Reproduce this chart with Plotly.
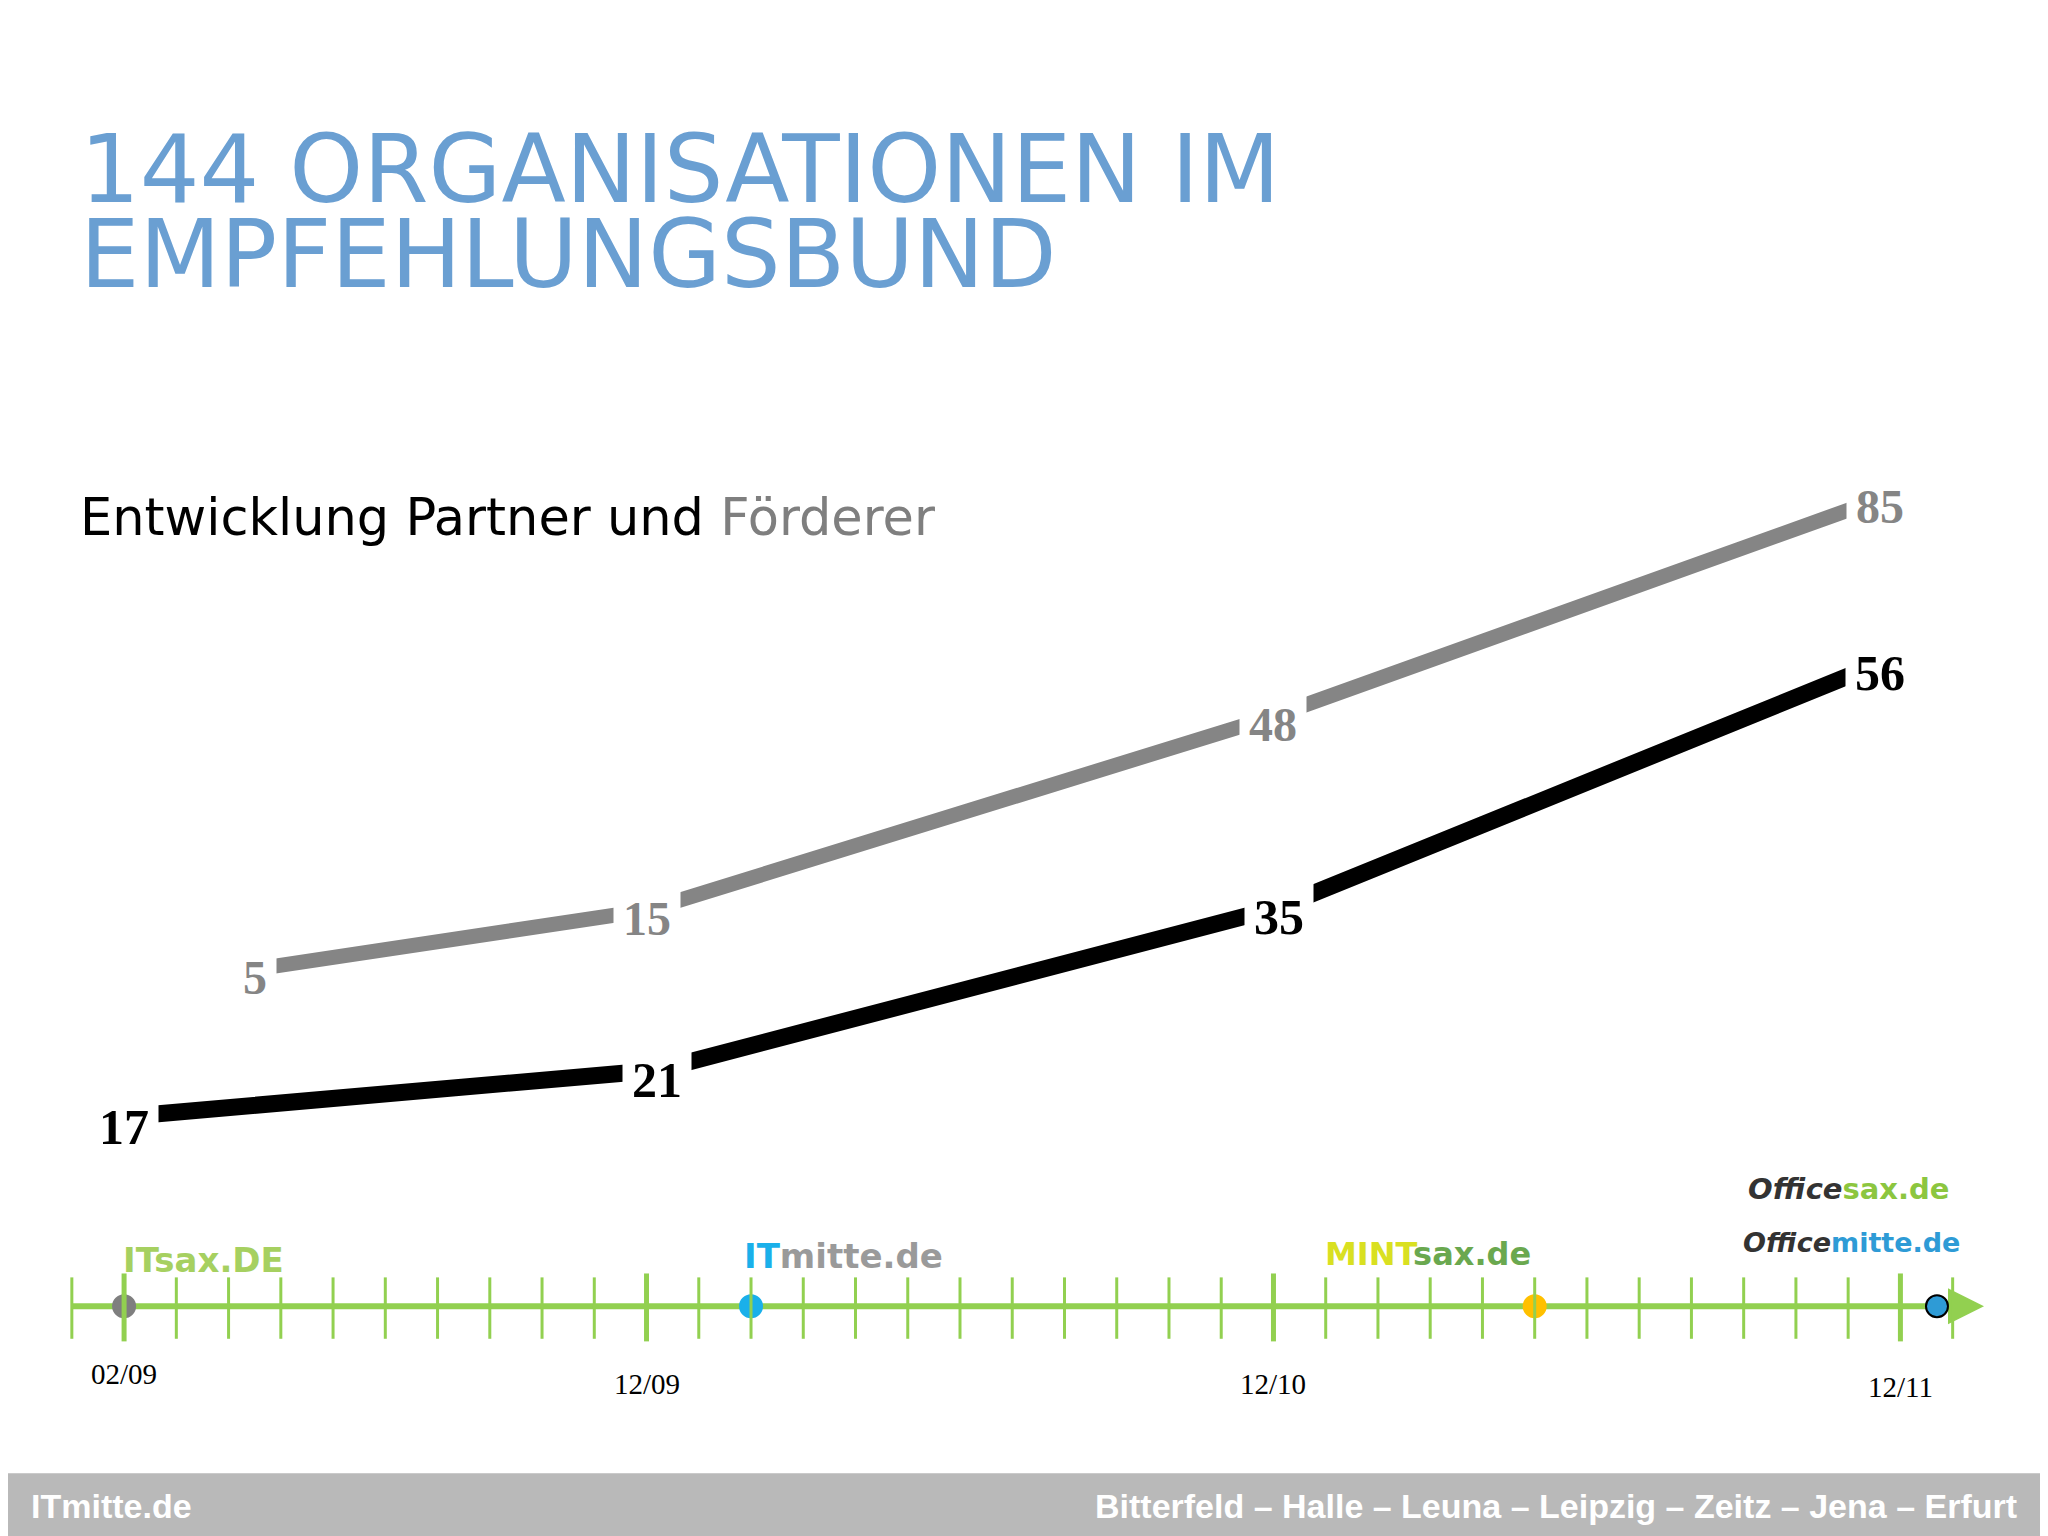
import plotly.graph_objects as go

FW, FH = 2032, 1528   # figure size (page has 8px body margin)
S = 2048 / 1568.0     # display->actual scale
OFF = 8 / S           # page offset in display px

# data
months = ["02/09", "12/09", "12/10", "12/11"]
month_idx = [0, 10, 22, 34]
partner_x = [0, 10.2, 22.1, 33.6]
partner = [17, 21, 35, 56]
foerderer_x = [2.5, 10, 22, 33.6]
foerderer = [5, 15, 48, 85]
marker_months = [0, 12, 27, 34.7]
marker_colors = ["#7f7f7f", "#1ab0ea", "#ffc000", "#2e9bd6"]
timeline_level = 0.7

DW, DH = FW / S, FH / S
def px(x): return (x - OFF) / DW
def py(y): return 1 - (y - OFF) / DH

def xr():
    a, b = 95.0, 40.0
    return [(OFF - a) / b, (OFF + DW - a) / b]
def yr(y0, slope):
    return [(y0 - (OFF + DH)) / slope, (y0 - OFF) / slope]

fig = go.Figure()
fig.add_trace(go.Scatter(x=[-1, 35.3], y=[timeline_level]*2, mode="lines",
                         line=dict(color="#92d050", width=6), hoverinfo="skip"))
fig.add_trace(go.Scatter(x=[35.6], y=[timeline_level], mode="markers",
                         marker=dict(symbol="arrow-right", size=36, color="#92d050"), hoverinfo="skip"))
fig.add_trace(go.Scatter(x=marker_months, y=[timeline_level]*4, mode="markers",
                         marker=dict(size=22, color=marker_colors,
                                     line=dict(color=["#7f7f7f", "#1ab0ea", "#ffc000", "#000000"], width=2)),
                         hoverinfo="skip"))
fig.add_trace(go.Scatter(x=partner_x, y=partner, mode="lines",
                         line=dict(color="#000000", width=17), hoverinfo="skip"))
fig.add_trace(go.Scatter(x=foerderer_x, y=foerderer, mode="lines", yaxis="y2",
                         line=dict(color="#858585", width=15), hoverinfo="skip"))

shapes = []
for m in range(-1, 36):
    major = m in month_idx
    shapes.append(dict(type="line", xref="x", yref="paper", x0=m, x1=m,
                       y0=py(1027 if major else 1025), y1=py(975 if major else 978),
                       line=dict(color="#92d050", width=5 if major else 3)))
shapes.append(dict(type="rect", xref="paper", yref="paper", x0=-0.01, x1=1.01,
                   y0=-0.01, y1=py(1128), fillcolor="#b9b9b9", line=dict(width=0), layer="below"))

M = dict(yanchor="middle", showarrow=False, xref="paper", yref="paper")
ann = []
for xv, v in zip(partner_x, partner):
    ann.append(dict(x=xv, y=v, xref="x", yref="y", text=f"<b>{v}</b>", showarrow=False,
                    yanchor="middle", yshift=-10,
                    font=dict(family="Liberation Serif", size=50, color="#000"),
                    bgcolor="white", borderpad=9))
for xv, v in zip(foerderer_x, foerderer):
    ann.append(dict(x=xv, y=v, xref="x", yref="y2", text=f"<b>{v}</b>", showarrow=False,
                    yanchor="middle", yshift=-8,
                    font=dict(family="Liberation Serif", size=48, color="#858585"),
                    bgcolor="white", borderpad=9))
for m, lab, yy in zip(month_idx, months, [1052, 1060, 1060, 1062]):
    ann.append(dict(x=m, y=py(yy), xref="x", yref="paper", text=lab, showarrow=False,
                    yanchor="middle", font=dict(family="Liberation Serif", size=29, color="#000")))
ann += [
    dict(x=px(60), y=py(130), xanchor="left", text="144 ORGANISATIONEN IM",
         font=dict(family="DejaVu Sans", size=94, color="#6a9fd2"), **M),
    dict(x=px(60), y=py(195), xanchor="left", text="EMPFEHLUNGSBUND",
         font=dict(family="DejaVu Sans", size=94, color="#6a9fd2"), **M),
    dict(x=px(60), y=py(396), xanchor="left",
         text="Entwicklung Partner und <span style='color:#7f7f7f'>Förderer</span>",
         font=dict(family="DejaVu Sans", size=51, color="#000"), **M),
    dict(x=px(93), y=py(965), xanchor="left", text="<b>ITsax.DE</b>",
         font=dict(family="DejaVu Sans", size=34, color="#a6d060"), **M),
    dict(x=px(568), y=py(962), xanchor="left",
         text="<b><span style='color:#1ab0ea'>IT</span>mitte.de</b>",
         font=dict(family="DejaVu Sans", size=34, color="#9a9a9a"), **M),
    dict(x=px(1013), y=py(960), xanchor="left",
         text="<b><span style='color:#d9e021'>MINT</span>sax.de</b>",
         font=dict(family="DejaVu Sans", size=32, color="#6aa84f"), **M),
    dict(x=px(1337), y=py(910), xanchor="left",
         text="<b><i><span style='color:#333'>Office</span></i>sax.de</b>",
         font=dict(family="DejaVu Sans", size=29, color="#8cc63f"), **M),
    dict(x=px(1333), y=py(951), xanchor="left",
         text="<b><i><span style='color:#333'>Office</span></i>mitte.de</b>",
         font=dict(family="DejaVu Sans", size=27, color="#2e9bd6"), **M),
    dict(x=px(22), y=py(1153), xanchor="left", text="<b>ITmitte.de</b>",
         font=dict(family="Liberation Sans", size=34, color="white"), **M),
    dict(x=px(1546), y=py(1153), xanchor="right",
         text="<b>Bitterfeld – Halle – Leuna – Leipzig – Zeitz – Jena – Erfurt</b>",
         font=dict(family="Liberation Sans", size=34, color="white"), **M),
]

fig.update_layout(
    width=FW, height=FH, margin=dict(l=0, r=0, t=0, b=0),
    paper_bgcolor="white", plot_bgcolor="white", showlegend=False,
    xaxis=dict(range=xr(), visible=False, domain=[0, 1]),
    yaxis=dict(range=yr(1006.3, 8.9), visible=False, domain=[0, 1]),
    yaxis2=dict(range=yr(764.5, 4.5), visible=False, overlaying="y"),
    shapes=shapes, annotations=ann,
)
fig.write_html("out.html")
